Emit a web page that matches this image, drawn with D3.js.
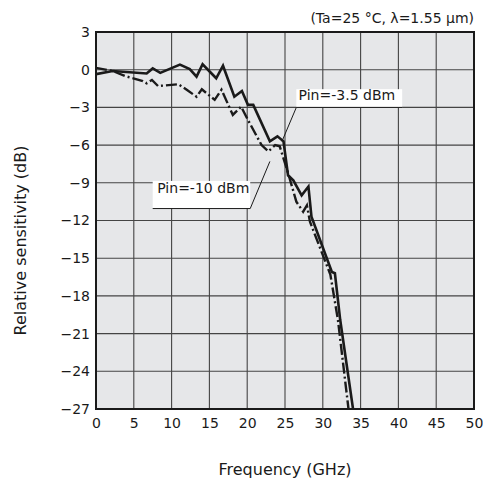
<!DOCTYPE html>
<html>
<head>
<meta charset="utf-8">
<script src="https://cdn.jsdelivr.net/npm/d3@7"></script>
<style>
  body { margin: 0; background: #fff; }
  text { font-family: "DejaVu Sans", Verdana, sans-serif; fill: #1a1a1a; }
</style>
</head>
<body>
<div id="chart"></div>
<script>
// Pin = -3.5 dBm (solid line)
const freqHigh = [0, 2.2, 6.7, 7.5, 8.5, 11.1, 12.4, 13.3, 14.1, 15.9, 16.8, 18.3, 19.3, 20.1, 20.8, 23.0, 24.0, 24.8, 25.4, 26.1, 27.2, 28.1, 28.5, 31.2, 31.6, 32.3, 34.0];
const dbHigh   = [-0.35, -0.1, -0.3, 0.1, -0.25, 0.4, 0.05, -0.55, 0.43, -0.68, 0.32, -2.15, -1.7, -2.8, -2.8, -5.7, -5.3, -5.7, -8.4, -8.8, -10.0, -9.3, -11.7, -16.1, -16.2, -19.9, -27];

// Pin = -10 dBm (dash-dot line)
const freqLow = [0, 2.2, 3.8, 6.2, 6.7, 7.4, 8.2, 10.9, 12.0, 13.3, 14.0, 15.7, 16.6, 18.1, 19.2, 20.1, 21.9, 22.8, 23.7, 24.3, 25.4, 26.5, 27.4, 27.9, 28.3, 31.0, 32.0, 33.4];
const dbLow   = [0.15, -0.1, -0.5, -0.9, -1.08, -0.82, -1.3, -1.16, -1.6, -2.15, -1.56, -2.4, -1.6, -3.6, -2.94, -4.0, -6.0, -6.5, -6.0, -6.1, -8.2, -10.5, -11.3, -10.8, -12.1, -16.3, -19.9, -27];

const xTicks = [0, 5, 10, 15, 20, 25, 30, 35, 40, 45, 50];
const yTicks = [3, 0, -3, -6, -9, -12, -15, -18, -21, -24, -27];

const svgWidth = 483;
const svgHeight = 481;
const margin = { top: 32, right: 9, bottom: 72, left: 96 };
const width = svgWidth - margin.left - margin.right;
const height = svgHeight - margin.top - margin.bottom;

const svg = d3.select("#chart")
  .append("svg")
  .attr("width", svgWidth)
  .attr("height", svgHeight);

const g = svg.append("g")
  .attr("transform", `translate(${margin.left},${margin.top})`);

const x = d3.scaleLinear().domain([0, 50]).range([0, width]);
const y = d3.scaleLinear().domain([-27, 3]).range([height, 0]);

// plot background
g.append("rect")
  .attr("width", width)
  .attr("height", height)
  .attr("fill", "#e6e7e9");

// grid
g.append("g")
  .selectAll("line")
  .data(xTicks.slice(1, -1))
  .join("line")
  .attr("x1", d => x(d)).attr("x2", d => x(d))
  .attr("y1", 0).attr("y2", height)
  .attr("stroke", "#444")
  .attr("stroke-width", 1.1);

g.append("g")
  .selectAll("line")
  .data(yTicks.slice(1, -1))
  .join("line")
  .attr("x1", 0).attr("x2", width)
  .attr("y1", d => y(d)).attr("y2", d => y(d))
  .attr("stroke", "#444")
  .attr("stroke-width", 1.1);

// axes (labels only)
const xAxis = g.append("g")
  .attr("transform", `translate(0,${height})`)
  .call(d3.axisBottom(x).tickValues(xTicks).tickSize(0).tickPadding(9));
const yAxis = g.append("g")
  .call(d3.axisLeft(y).tickValues(yTicks).tickSize(0).tickPadding(6));
[xAxis, yAxis].forEach(a => {
  a.select(".domain").remove();
  a.selectAll("text")
    .attr("font-family", "DejaVu Sans, Verdana, sans-serif")
    .attr("font-size", 14)
    .attr("fill", "#1a1a1a");
});

// curves
const line = d3.line().x(d => x(d[0])).y(d => y(d[1]));
const highPts = d3.zip(freqHigh, dbHigh);
const lowPts = d3.zip(freqLow, dbLow);

g.append("clipPath").attr("id", "plotclip")
  .append("rect").attr("width", width).attr("height", height);

g.append("path")
  .datum(lowPts)
  .attr("d", line)
  .attr("fill", "none")
  .attr("stroke", "#1a1a1a")
  .attr("stroke-width", 2.4)
  .attr("stroke-dasharray", "11,3,2,3")
  .attr("clip-path", "url(#plotclip)");

g.append("path")
  .datum(highPts)
  .attr("d", line)
  .attr("fill", "none")
  .attr("stroke", "#1a1a1a")
  .attr("stroke-width", 2.6)
  .attr("clip-path", "url(#plotclip)");

// labels with leader lines
function label(text, tx, ty, boxX, boxY, boxW, boxH, pointer) {
  g.append("rect")
    .attr("x", boxX).attr("y", boxY)
    .attr("width", boxW).attr("height", boxH)
    .attr("fill", "#fff");
  g.append("line")
    .attr("x1", boxX).attr("x2", boxX + boxW)
    .attr("y1", boxY + boxH).attr("y2", boxY + boxH)
    .attr("stroke", "#1a1a1a").attr("stroke-width", 1);
  g.append("line")
    .attr("x1", pointer[0]).attr("y1", pointer[1])
    .attr("x2", pointer[2]).attr("y2", pointer[3])
    .attr("stroke", "#1a1a1a").attr("stroke-width", 1);
  g.append("text")
    .attr("x", tx).attr("y", ty)
    .attr("font-size", 14)
    .text(text);
}

label("Pin=-3.5 dBm", x(26.8), y(-2.45), x(26.5), y(-1.55), x(40.5) - x(26.5), y(-3) - y(-1.55),
  [x(26.5), y(-3), x(24.6), y(-5.7)]);
label("Pin=-10 dBm", x(8.1), y(-9.85), x(7.5), y(-8.85), x(20.4) - x(7.5), y(-11.05) - y(-8.85),
  [x(20.4), y(-11.05), x(23.0), y(-7.3)]);

// frame
g.append("rect")
  .attr("width", width)
  .attr("height", height)
  .attr("fill", "none")
  .attr("stroke", "#1a1a1a")
  .attr("stroke-width", 2);

// titles
svg.append("text")
  .attr("x", margin.left + width)
  .attr("y", 23)
  .attr("text-anchor", "end")
  .attr("font-size", 14)
  .text("(Ta=25 °C, λ=1.55 μm)");

svg.append("text")
  .attr("x", margin.left + width / 2)
  .attr("y", 475)
  .attr("text-anchor", "middle")
  .attr("font-size", 16)
  .text("Frequency (GHz)");

svg.append("text")
  .attr("transform", `translate(26,${margin.top + height / 2 + 20}) rotate(-90)`)
  .attr("text-anchor", "middle")
  .attr("font-size", 16)
  .text("Relative sensitivity (dB)");
</script>
</body>
</html>
